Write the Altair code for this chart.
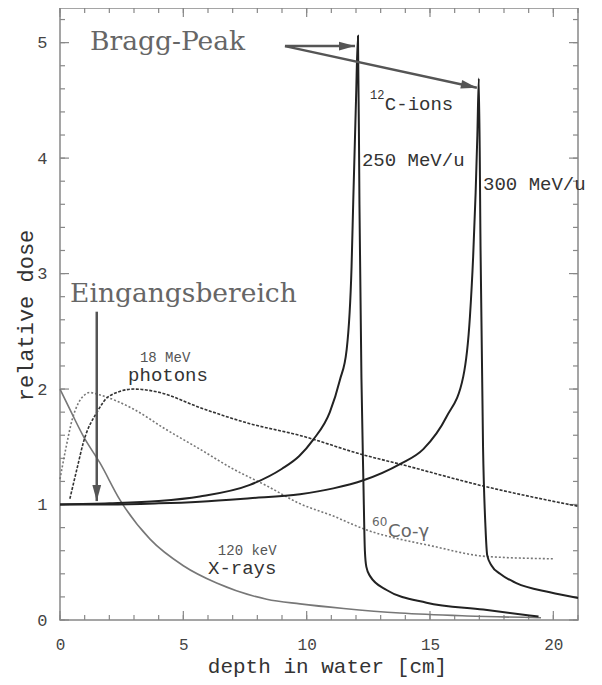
import altair as alt
import pandas as pd

W, H = 518, 612

# ---- curves (depth in cm, relative dose) ----
xray_x = [0, 0.5, 0.95, 1.62, 2.43, 3.65, 5.0, 6.35, 8.38, 9.73, 11.5, 13.78, 16.5, 19.5]
xray_y = [2.0, 1.78, 1.59, 1.36, 1.04, 0.70, 0.47, 0.32, 0.18, 0.14, 0.10, 0.06, 0.035, 0.02]

co_x = [0, 0.25, 0.5, 0.75, 0.95, 1.2, 1.6, 2.95, 4.3, 5.67, 7.0, 8.4, 9.7, 11.08, 12.3, 15.1, 17.3, 20.0]
co_y = [1.22, 1.5, 1.74, 1.88, 1.94, 1.97, 1.95, 1.83, 1.65, 1.48, 1.31, 1.16, 1.01, 0.90, 0.79, 0.64, 0.55, 0.53]

ph_x = [0.4, 0.7, 0.95, 1.5, 2.0, 3.0, 4.05, 5.67, 7.7, 9.7, 12.3, 13.78, 17.16, 21.0]
ph_y = [1.05, 1.32, 1.54, 1.8, 1.94, 2.0, 1.97, 1.84, 1.70, 1.60, 1.43, 1.35, 1.16, 0.985]

c250_x = [0, 2, 4, 5.67, 7.7, 9.0, 9.7, 10.26, 10.94, 11.35, 11.62, 11.82, 11.89, 12.0, 12.08,
          12.14, 12.22, 12.3, 12.36, 12.42, 12.57, 13.24, 14.86, 17.16, 19.4]
c250_y = [1.0, 1.01, 1.03, 1.07, 1.17, 1.31, 1.42, 1.56, 1.80, 2.08, 2.34, 3.06, 3.64, 4.5, 5.06,
          3.6, 2.1, 1.2, 0.6, 0.46, 0.38, 0.26, 0.15, 0.09, 0.03]

c300_x = [0, 2, 4, 5.67, 7.7, 9.73, 11.08, 12.3, 13.78, 14.73, 15.67, 16.35, 16.62, 16.75, 16.85,
          16.92, 16.98, 17.05, 17.15, 17.25, 17.32, 17.5, 17.84, 18.5, 19.86, 21.0]
c300_y = [1.0, 1.0, 1.01, 1.025, 1.055, 1.09, 1.14, 1.21, 1.35, 1.48, 1.76, 2.11, 2.63, 3.15, 3.7,
          4.2, 4.69, 3.2, 1.5, 0.8, 0.56, 0.47, 0.40, 0.32, 0.24, 0.19]

# ---- ticks ----
x_minor = list(range(0, 22))
x_major = [0, 5, 10, 15, 20]
y_minor = [round(0.2 * i, 1) for i in range(27)]
y_major = [0, 1, 2, 3, 4, 5]

# ---- annotations ----
serif_text = ["Bragg-Peak", "Eingangsbereich"]
serif_x = [1.22, 0.41]
serif_y = [4.94, 2.755]

mono_text = ["C-ions", "250 MeV/u", "300 MeV/u", "photons", "X-rays"]
mono_x = [13.17, 12.24, 17.15, 2.76, 6.0]
mono_y = [4.414, 3.935, 3.727, 2.07, 0.40]

small_text = ["18 MeV", "120 keV"]
small_x = [3.24, 6.40]
small_y = [2.23, 0.567]

sup_text = ["12"]
sup_x = [12.57]
sup_y = [4.51]

co_text = ["Co-\u03b3"]
co_tx = [13.3]
co_ty = [0.72]
co_sup = ["60"]
co_sx = [12.65]
co_sy = [0.81]

arrow_x = [9.12, 9.12, 1.49]
arrow_y = [4.97, 4.97, 2.67]
arrow_x2 = [11.96, 16.9, 1.49]
arrow_y2 = [4.97, 4.61, 1.03]
arrow_angle = [0, 12.2, 90]

MONO = "Liberation Mono"
SERIF = "DejaVu Serif"

xs = alt.Scale(domain=[0, 21], nice=False, zero=False)
ys = alt.Scale(domain=[0, 5.3], nice=False, zero=False)

X_AX = alt.Axis(values=x_major, ticks=False, tickSize=0, domain=False, grid=False,
                labelFont=MONO, labelFontSize=16, labelColor="#444", labelPadding=16,
                labelFlush=False, labelOverlap=False,
                title="depth in water [cm]", titleFont=MONO, titleFontSize=21,
                titleFontWeight="normal", titleColor="#333", titleX=267, titleY=52,
                titleBaseline="alphabetic", titleAlign="center")
Y_AX = alt.Axis(values=y_major, ticks=False, tickSize=0, domain=False, grid=False,
                labelFont=MONO, labelFontSize=17, labelColor="#444", labelPadding=13,
                labelFlush=False, labelOverlap=False,
                title="relative dose", titleFont=MONO, titleFontSize=22,
                titleFontWeight="normal", titleColor="#333", titleX=-28, titleY=307,
                titleBaseline="alphabetic", titleAlign="center")


def X(field="x"):
    return alt.X(f"{field}:Q", scale=xs, axis=X_AX)


def Y(field="y"):
    return alt.Y(f"{field}:Q", scale=ys, axis=Y_AX)


def ldf(xv, yv):
    return pd.DataFrame({"x": xv, "y": yv, "i": list(range(len(xv)))})


def line(xv, yv, **kw):
    return alt.Chart(ldf(xv, yv)).mark_line(interpolate="monotone", **kw).encode(
        x=X(), y=Y(), order="i:Q")


layers = []

# inner ticks
tick_color = "#888"
for vals, ln in [(x_minor, 5), (x_major, 9)]:
    d = pd.DataFrame({"x": vals})
    layers.append(alt.Chart(d).mark_rule(color=tick_color, strokeWidth=1.2).encode(
        x=X(), y=alt.value(H), y2=alt.value(H - ln)))
    layers.append(alt.Chart(d).mark_rule(color=tick_color, strokeWidth=1.2).encode(
        x=X(), y=alt.value(0), y2=alt.value(ln)))
for vals, ln in [(y_minor, 5), (y_major, 9)]:
    d = pd.DataFrame({"y": vals})
    layers.append(alt.Chart(d).mark_rule(color=tick_color, strokeWidth=1.2).encode(
        y=Y(), x=alt.value(0), x2=alt.value(ln)))
    layers.append(alt.Chart(d).mark_rule(color=tick_color, strokeWidth=1.2).encode(
        y=Y(), x=alt.value(W), x2=alt.value(W - ln)))

# curves
layers.append(line(xray_x, xray_y, color="#777", strokeWidth=1.6))
layers.append(line(co_x, co_y, color="#777", strokeWidth=1.6, strokeDash=[2, 2]))
layers.append(line(ph_x, ph_y, color="#333", strokeWidth=1.6, strokeDash=[3, 1.5]))
layers.append(line(c250_x, c250_y, color="#222", strokeWidth=2))
layers.append(line(c300_x, c300_y, color="#222", strokeWidth=2))

# arrows
adf = pd.DataFrame({"x": arrow_x, "y": arrow_y, "x2": arrow_x2, "y2": arrow_y2, "angle": arrow_angle})
layers.append(alt.Chart(adf).mark_rule(color="#555", strokeWidth=2.5).encode(
    x=X(), y=Y(), x2="x2:Q", y2="y2:Q"))
layers.append(alt.Chart(adf).mark_point(shape="M0,0L-2,-0.55L-2,0.55Z", filled=True, size=256,
                                        color="#555", opacity=1).encode(
    x=X("x2"), y=Y("y2"), angle=alt.Angle("angle:Q", scale=None)))


def tlayer(texts, xv, yv, font, size, color, **kw):
    d = pd.DataFrame({"t": texts, "x": xv, "y": yv})
    return alt.Chart(d).mark_text(align="left", baseline="alphabetic", font=font,
                                  fontSize=size, color=color, **kw).encode(
        x=X(), y=Y(), text="t:N")


layers.append(tlayer(serif_text, serif_x, serif_y, SERIF, 26.5, "#666"))
layers.append(tlayer(mono_text, mono_x, mono_y, MONO, 19, "#333"))
layers.append(tlayer(small_text, small_x, small_y, MONO, 14, "#555"))
layers.append(tlayer(sup_text, sup_x, sup_y, MONO, 12, "#333"))
layers.append(tlayer(co_text, co_tx, co_ty, "DejaVu Sans", 18, "#666"))
layers.append(tlayer(co_sup, co_sx, co_sy, "DejaVu Sans", 12, "#666"))

chart = alt.layer(*layers).properties(
    width=W, height=H,
    autosize=alt.AutoSizeParams(type="none"),
    padding={"left": 52, "top": 0, "right": 16, "bottom": 57},
    background="white",
).configure_view(stroke="#888", strokeWidth=1.5)

chart.save("out.html", embed_options={"renderer": "svg", "actions": False})
